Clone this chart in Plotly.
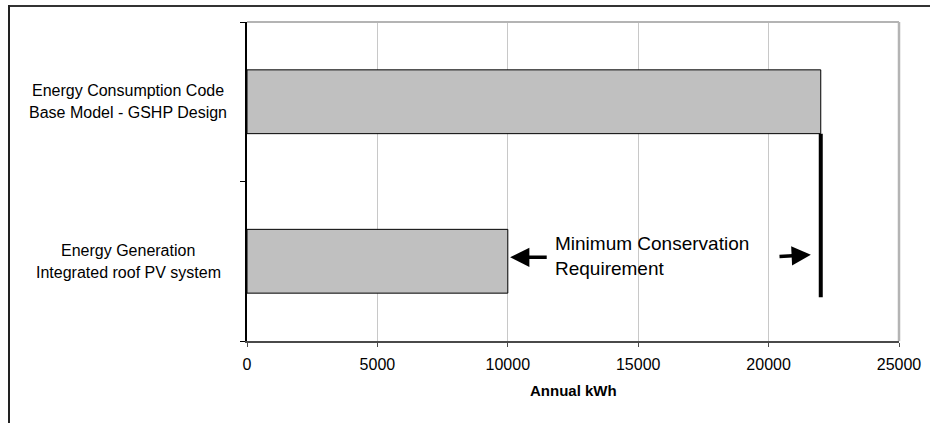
import plotly.graph_objects as go

# ---- data ----
categories = [
    "Energy Generation<br>Integrated roof PV system",
    "Energy Consumption Code<br>Base Model - GSHP Design",
]
values = [10000, 22000]
x_ticks = [0, 5000, 10000, 15000, 20000, 25000]
x_title = "Annual kWh"
note_text = "Minimum Conservation<br>Requirement"
requirement_level = 22000  # code base model consumption

FONT = "Arial, Liberation Sans, sans-serif"

# plot-area geometry (pixels) for paper-coordinate decorations
W, H = 930, 423
L, R, T, B = 247, 899, 22, 341
PW, PH = R - L, B - T


def px(X):
    return (X - L) / PW


def py(Y):
    return (B - Y) / PH


fig = go.Figure()
fig.add_trace(go.Bar(
    x=values, y=categories, orientation="h",
    width=0.4,
    marker=dict(color="#C0C0C0", line=dict(color="#000000", width=1)),
    hoverinfo="x+y",
))

shapes = []
# white box behind the note (covers gridlines)
shapes.append(dict(type="rect", xref="x", yref="y",
                   x0=10150, x1=21800, y0=-0.2, y1=0.23,
                   fillcolor="white", line=dict(width=0), layer="below"))
# thick requirement line
shapes.append(dict(type="line", xref="x", yref="y",
                   x0=requirement_level, x1=requirement_level, y0=0.8, y1=-0.225,
                   line=dict(color="black", width=4), layer="above"))
# plot area top/right border (grey)
shapes.append(dict(type="line", xref="paper", yref="paper", x0=0, x1=1, y0=1, y1=1,
                   line=dict(color="#B4B4B4", width=2)))
shapes.append(dict(type="line", xref="paper", yref="paper", x0=1, x1=1, y0=0, y1=1,
                   line=dict(color="#B4B4B4", width=2.5)))
# outer frame (top and left)
shapes.append(dict(type="line", xref="paper", yref="paper",
                   x0=px(8), x1=px(W + 5), y0=py(6), y1=py(6),
                   line=dict(color="#333333", width=2)))
shapes.append(dict(type="line", xref="paper", yref="paper",
                   x0=px(9), x1=px(9), y0=py(5), y1=py(H + 5),
                   line=dict(color="#222222", width=2)))

annotations = []
# category labels (centered, two lines each)
for c in categories:
    lines = c.split("<br>")
    for i, ln in enumerate(lines):
        annotations.append(dict(xref="paper", yref="y", x=px(128), y=c,
                                text=ln, showarrow=False, xanchor="center", yanchor="middle",
                                yshift=11 - 22 * i,
                                font=dict(family=FONT, size=16, color="black")))
# note text
annotations.append(dict(xref="x", yref="y", x=11730, y=0.035, text=note_text,
                        showarrow=False, xanchor="left", yanchor="middle", align="left",
                        font=dict(family=FONT, size=19, color="black")))
# arrows
annotations.append(dict(xref="x", yref="y", x=10090, y=0.025, axref="x", ayref="y",
                        ax=11550, ay=0.025, text="", showarrow=True, arrowhead=2,
                        arrowsize=1.1, arrowwidth=3.5, arrowcolor="black", standoff=0))
annotations.append(dict(xref="x", yref="y", x=21620, y=0.04, axref="x", ayref="y",
                        ax=20360, ay=0.03, text="", showarrow=True, arrowhead=2,
                        arrowsize=1.1, arrowwidth=3.5, arrowcolor="black", standoff=0))
# axis title
annotations.append(dict(xref="paper", yref="paper", x=px(573), y=py(390), text="<b>" + x_title + "</b>",
                        showarrow=False, xanchor="center", yanchor="middle",
                        font=dict(family=FONT, size=15, color="black")))

fig.update_layout(
    width=W, height=H,
    margin=dict(l=L, r=W - R, t=T, b=H - B, pad=0),
    paper_bgcolor="white", plot_bgcolor="white",
    showlegend=False,
    font=dict(family=FONT, size=16, color="black"),
    xaxis=dict(range=[0, 25000], tickvals=x_ticks, ticktext=[str(v) for v in x_ticks],
               showgrid=True, gridcolor="#C8C8C8", gridwidth=1, zeroline=False,
               showline=True, linecolor="#4A4A4A", linewidth=2,
               ticks="outside", ticklen=4, tickcolor="#4A4A4A", tickwidth=1,
               tickfont=dict(family=FONT, size=16, color="black"),
               ticklabelstandoff=4, automargin=False),
    yaxis=dict(type="category", categoryorder="array", categoryarray=categories,
               range=[-0.5, 1.5], showticklabels=False, showgrid=False, zeroline=False,
               showline=True, linecolor="black", linewidth=2,
               ticks="outside", tickson="boundaries", ticklen=5, tickcolor="black",
               tickwidth=1, automargin=False),
    shapes=shapes,
    annotations=annotations,
)

fig.write_html("out.html", config={"displayModeBar": False},
               post_script="document.body.style.margin='0';document.body.style.overflow='hidden';")
